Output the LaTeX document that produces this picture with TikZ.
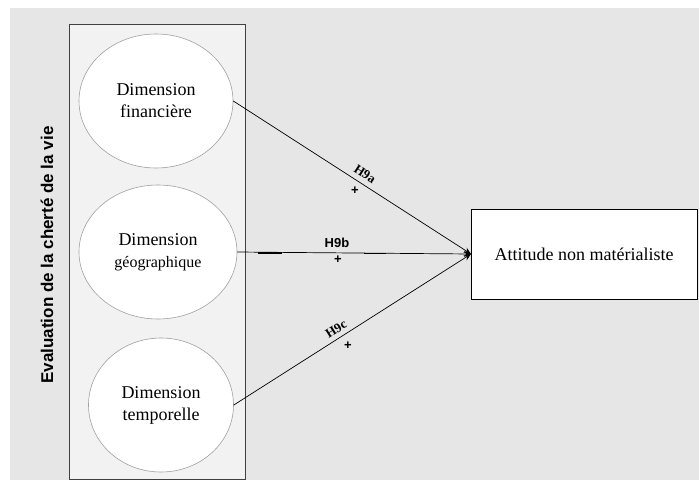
\documentclass[tikz,border=0pt]{standalone}
\usepackage{fontspec}
\setmainfont{Liberation Serif}
\setsansfont{Liberation Sans}
\usetikzlibrary{arrows.meta,shapes.geometric}
\definecolor{bggray}{HTML}{E6E6E6}
\definecolor{panel}{HTML}{F2F2F2}
\definecolor{panelborder}{HTML}{404040}
\definecolor{ellborder}{HTML}{A0A0A0}
\tikzset{
  dimnode/.style={ellipse, draw=ellborder, fill=white, line width=0.6pt, align=center, inner sep=0pt,
    font=\fontsize{18}{22}\selectfont},
  outbox/.style={rectangle, draw=black, fill=white, line width=0.8pt, inner sep=0pt,
    font=\fontsize{18}{22}\selectfont},
  conn/.style={draw=black, line width=0.7pt, -{Stealth[length=7pt,width=6pt]}},
  hlabel/.style={font=\bfseries\fontsize{13}{15}\selectfont, inner sep=0pt},
  plus/.style={font=\sffamily\bfseries\fontsize{13}{15}\selectfont, inner sep=0pt}
}
\begin{document}
\begin{tikzpicture}[x=1pt,y=-1pt]
\useasboundingbox (0,0) rectangle (699,480);
\fill[white] (0,0) rectangle (699,480);
\fill[bggray] (10,8) rectangle (699,480);
\draw[panelborder, fill=panel, line width=0.8pt] (69,24) rectangle (245,479);
\node[rotate=90, font=\sffamily\bfseries\fontsize{17}{20}\selectfont, inner sep=0pt] (title) at (47,255) {Evaluation de la cherté de la vie};
\node[dimnode, minimum width=154pt, minimum height=134pt] (e1) at (156,101) {Dimension\\financière};
\node[dimnode, minimum width=158pt, minimum height=134pt] (e2) at (158,252) {Dimension\\{\fontsize{16}{20}\selectfont géographique}};
\node[dimnode, minimum width=145pt, minimum height=134pt] (e3) at (161,405) {Dimension\\temporelle};
\node[outbox, minimum width=226pt, minimum height=90pt] (out) at (584,254) {Attitude non matérialiste};
\coordinate (tgt) at (471,254);
\draw[conn] (e1.east) -- (tgt);
\draw[conn] (e2.east) -- (tgt);
\draw[conn] (e3.east) -- (tgt);
\draw[line width=1.6pt] (258,253) -- (282,253);
\draw[line width=1.6pt] (364,253.5) -- (386,253.5);
\node[hlabel, rotate=-33] (h9a) at (365,174) {H9a};
\node[plus] (p1) at (355,191) {+};
\node[hlabel, font=\sffamily\bfseries\fontsize{13}{15}\selectfont] (h9b) at (337,243) {H9b};
\node[plus] (p2) at (338,260) {+};
\node[hlabel, rotate=32] (h9c) at (336,329) {H9c};
\node[plus] (p3) at (348,346) {+};
\end{tikzpicture}
\end{document}
